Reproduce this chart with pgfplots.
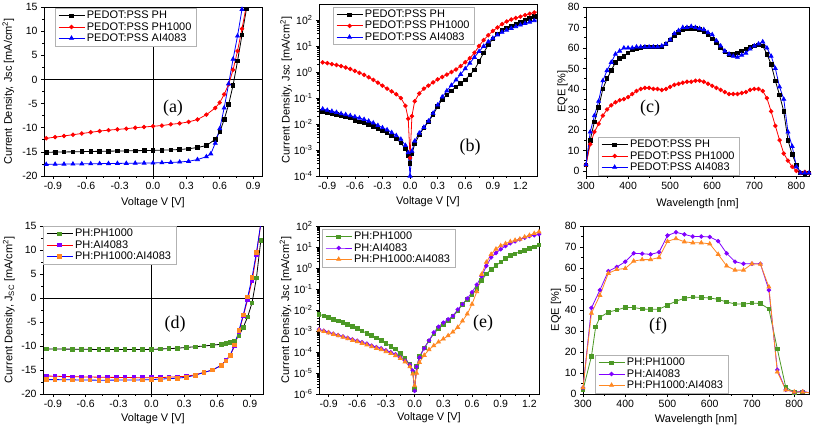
\documentclass[border=0pt]{standalone}
\usepackage{fontspec}
\setmainfont{Liberation Sans}
\newfontfamily\serif{Liberation Serif}
\usepackage{pgfplots}
\pgfplotsset{compat=1.18}

\definecolor{pgreen}{RGB}{76,153,38}
\definecolor{ppurple}{RGB}{128,0,255}
\definecolor{porange}{RGB}{255,136,34}
\newcommand\fs[1]{\fontsize{#1}{#1}\selectfont}

% common look of all six panels
\pgfplotsset{
  panel/.style={
    scale only axis, anchor=south west,
    axis line style={line width=0.8pt},
    tick pos=left, tick align=outside,
    major tick length=3pt, minor tick length=1.8pt,
    tick style={black, line width=0.6pt},
    tick label style={font=\fs{10.5}},
    /pgf/number format/assume math mode=true,
    label style={font=\fs{11}},
    legend cell align=left,
    legend style={font=\fs{11}, draw=gray!60, line width=0.4pt, fill=white,
      inner xsep=3pt, inner ysep=1pt, row sep=-2pt},
    every axis plot/.append style={line width=0.8pt, mark size=1.8pt, mark options={solid}},
  },
  decx/.style={xticklabel style={/pgf/number format/.cd, fixed, fixed zerofill, precision=1}},
  legend image code/.code={\draw[mark repeat=2,mark phase=2,#1] plot coordinates {(0pt,0pt) (13pt,0pt) (26pt,0pt)};},
}

\begin{document}
\begin{tikzpicture}
\path[use as bounding box] (0,0) rectangle (813pt,432pt);

%%%%%%%%%%%%%%%%%%%%%%%% (a) J-V linear %%%%%%%%%%%%%%%%%%%%%%%%
\begin{axis}[panel, decx, at={(44pt,256pt)}, width=218pt, height=169pt,
  xmin=-0.98, xmax=0.98, ymin=-20, ymax=15,
  xtick={-0.9,-0.6,-0.3,0,0.3,0.6,0.9}, ytick={-20,-15,-10,-5,0,5,10,15},
  minor x tick num=1, minor y tick num=1,
  xlabel={Voltage V [V]}, ylabel={Current Density, Jsc [mA/cm\textsuperscript{2}]},
  xlabel style={at={(axis description cs:0.5,-0.156)}, anchor=center},
  ylabel style={at={(axis description cs:-0.164,0.5)}, anchor=center},
  legend style={at={(0.05,0.994)}, anchor=north west}]
\draw[black, line width=0.8pt] (axis cs:-0.98,0) -- (axis cs:0.98,0);
\draw[black, line width=0.8pt] (axis cs:0,-20) -- (axis cs:0,15);
\addplot[black, mark=square*] coordinates {(-0.96,-15.08) (-0.88,-15.05) (-0.8,-15.02) (-0.72,-14.99) (-0.64,-14.96) (-0.56,-14.92) (-0.48,-14.89) (-0.4,-14.86) (-0.32,-14.83) (-0.24,-14.8) (-0.16,-14.76) (-0.08,-14.73) (0,-14.7) (0.08,-14.65) (0.16,-14.59) (0.24,-14.51) (0.32,-14.36) (0.4,-14.1) (0.48,-13.7) (0.56,-12.4) (0.6,-10.9) (0.64,-8.3) (0.68,-5.2) (0.72,-1.2) (0.76,3.8) (0.8,9.2) (0.84,14.6) (0.88,20)};
\addlegendentry{PEDOT:PSS PH}
\addplot[red, mark=*] coordinates {(-0.96,-12.2) (-0.88,-11.95) (-0.8,-11.7) (-0.72,-11.45) (-0.64,-11.2) (-0.56,-10.95) (-0.48,-10.7) (-0.4,-10.5) (-0.32,-10.35) (-0.24,-10.2) (-0.16,-10.0) (-0.08,-9.85) (0,-9.7) (0.08,-9.55) (0.16,-9.3) (0.24,-9.1) (0.32,-8.8) (0.4,-8.3) (0.48,-7.3) (0.56,-5.9) (0.6,-4.8) (0.64,-3.1) (0.68,-1.0) (0.72,2.0) (0.76,5.9) (0.8,10.5) (0.84,15.3) (0.88,20)};
\addlegendentry{PEDOT:PSS PH1000}
\addplot[blue, mark=triangle*, mark size=2.2pt] coordinates {(-0.96,-17.6) (-0.88,-17.56) (-0.8,-17.54) (-0.72,-17.51) (-0.64,-17.49) (-0.56,-17.46) (-0.48,-17.44) (-0.4,-17.42) (-0.32,-17.39) (-0.24,-17.37) (-0.16,-17.34) (-0.08,-17.32) (0,-17.3) (0.08,-17.25) (0.16,-17.2) (0.24,-17.1) (0.32,-16.95) (0.4,-16.6) (0.48,-16.0) (0.52,-15.4) (0.56,-13.2) (0.6,-10.2) (0.64,-5.9) (0.68,-0.9) (0.72,4.2) (0.76,9.0) (0.8,14.5) (0.84,19)};
\addlegendentry{PEDOT:PSS AI4083}
\end{axis}

%%%%%%%%%%%%%%%%%%%%%%%% (b) J-V log %%%%%%%%%%%%%%%%%%%%%%%%
\begin{axis}[panel, decx, ymode=log, at={(319pt,256pt)}, width=218pt, height=172pt,
  xmin=-0.99, xmax=1.38, ymin=1e-4, ymax=415,
  xtick={-0.9,-0.6,-0.3,0,0.3,0.6,0.9,1.2}, minor x tick num=1,
  ytick={1e-4,1e-3,1e-2,1e-1,1,10,100},
  yticklabels={10\textsuperscript{-4},10\textsuperscript{-3},10\textsuperscript{-2},10\textsuperscript{-1},10\textsuperscript{0},10\textsuperscript{1},10\textsuperscript{2}},
  xlabel={Voltage V [V]}, ylabel={Current Density, Jsc [mA/cm\textsuperscript{2}]},
  xlabel style={at={(axis description cs:0.5,-0.149)}, anchor=center},
  ylabel style={at={(axis description cs:-0.151,0.5)}, anchor=center},
  legend style={at={(0.064,0.983)}, anchor=north west}]
\addplot[black, mark=square*] coordinates {(-0.95,0.031) (-0.9,0.028) (-0.85,0.025) (-0.8,0.023) (-0.75,0.021) (-0.7,0.019) (-0.65,0.017) (-0.6,0.014) (-0.55,0.012) (-0.5,0.011) (-0.45,0.0095) (-0.4,0.008) (-0.35,0.0066) (-0.3,0.0055) (-0.25,0.0045) (-0.2,0.0035) (-0.15,0.0027) (-0.1,0.0019) (-0.05,0.0011) (-0.02,6e-4) (0,3e-4) (0.02,7e-4) (0.05,0.0017) (0.1,0.0038) (0.15,0.0072) (0.2,0.012) (0.25,0.023) (0.3,0.047) (0.35,0.09) (0.4,0.13) (0.45,0.19) (0.5,0.27) (0.55,0.36) (0.6,0.5) (0.65,0.78) (0.7,1.2) (0.75,2.6) (0.8,5.5) (0.85,11) (0.9,19) (0.95,29) (1.0,40) (1.05,50) (1.1,60) (1.15,70) (1.2,80) (1.25,95) (1.3,115) (1.35,140) (1.4,160)};
\addlegendentry{PEDOT:PSS PH}
\addplot[red, mark=*] coordinates {(-0.95,2.35) (-0.9,2.2) (-0.85,2.0) (-0.8,1.86) (-0.75,1.7) (-0.7,1.5) (-0.65,1.3) (-0.6,1.1) (-0.55,0.93) (-0.5,0.78) (-0.45,0.63) (-0.4,0.5) (-0.35,0.39) (-0.3,0.3) (-0.25,0.23) (-0.2,0.18) (-0.15,0.14) (-0.1,0.1) (-0.05,0.05) (-0.02,0.016) (0,5e-4) (0.02,0.02) (0.05,0.075) (0.1,0.15) (0.15,0.23) (0.2,0.3) (0.25,0.4) (0.3,0.52) (0.35,0.65) (0.4,0.8) (0.45,1.0) (0.5,1.25) (0.55,1.7) (0.6,2.4) (0.65,3.4) (0.7,5.5) (0.75,10) (0.8,17) (0.85,26) (0.9,38) (0.95,52) (1.0,70) (1.05,88) (1.1,105) (1.15,120) (1.2,135) (1.25,155) (1.3,175) (1.35,195) (1.4,215)};
\addlegendentry{PEDOT:PSS PH1000}
\addplot[blue, mark=triangle*, mark size=2.2pt] coordinates {(-0.95,0.038) (-0.9,0.034) (-0.85,0.031) (-0.8,0.028) (-0.75,0.025) (-0.7,0.023) (-0.65,0.021) (-0.6,0.019) (-0.55,0.017) (-0.5,0.015) (-0.45,0.013) (-0.4,0.011) (-0.35,0.0088) (-0.3,0.0072) (-0.25,0.006) (-0.2,0.0047) (-0.15,0.0036) (-0.1,0.0026) (-0.05,0.0015) (-0.02,8e-4) (0,1e-4) (0.02,9e-4) (0.05,0.0022) (0.1,0.0045) (0.15,0.0075) (0.2,0.013) (0.25,0.026) (0.3,0.054) (0.35,0.11) (0.4,0.19) (0.45,0.31) (0.5,0.5) (0.55,0.82) (0.6,1.35) (0.65,2.2) (0.7,3.7) (0.75,6.2) (0.8,9.8) (0.85,14.6) (0.9,20) (0.95,27) (1.0,34) (1.05,41) (1.1,48) (1.15,56) (1.2,65) (1.25,74) (1.3,84) (1.35,95) (1.4,105)};
\addlegendentry{PEDOT:PSS AI4083}
\end{axis}

%%%%%%%%%%%%%%%%%%%%%%%% (c) EQE %%%%%%%%%%%%%%%%%%%%%%%%
\begin{axis}[panel, at={(586pt,256pt)}, width=223pt, height=169pt,
  xmin=300, xmax=830, ymin=-2.5, ymax=80,
  xtick={300,400,500,600,700,800}, ytick={0,10,20,30,40,50,60,70,80},
  minor x tick num=1, minor y tick num=1,
  xlabel={Wavelength [nm]}, ylabel={EQE [\%]},
  xlabel style={at={(axis description cs:0.5,-0.166)}, anchor=center},
  ylabel style={at={(axis description cs:-0.105,0.5)}, anchor=center},
  legend style={at={(0.054,0.006)}, anchor=south west}]
\addplot[black, mark=square*] coordinates {(300,3) (310,15) (320,24) (330,31) (340,40) (350,45) (360,49) (370,53) (380,55) (390,56) (400,57.5) (410,59) (420,59.5) (430,60) (440,60.5) (450,60.5) (460,60.5) (470,60.5) (480,60.5) (490,62) (500,64) (510,66) (520,67.5) (530,69) (540,69.5) (550,69.5) (560,69.5) (570,69) (580,68) (590,66.5) (600,64.5) (610,62.5) (620,60) (630,58) (640,57) (650,57) (660,57.5) (670,58.5) (680,59.5) (690,60.5) (700,61) (710,61.5) (720,61) (730,57) (740,52) (750,44) (760,37) (770,29) (780,15) (790,8) (800,3) (810,-1) (820,-1.5) (830,-1)};
\addlegendentry{PEDOT:PSS PH}
\addplot[red, mark=*] coordinates {(300,3) (310,13) (320,19) (330,23) (340,27) (350,30) (360,32) (370,33.5) (380,34.5) (390,35) (400,36) (410,37.5) (420,39) (430,40) (440,40.5) (450,40.5) (460,40) (470,40) (480,39.5) (490,40) (500,41) (510,42) (520,42.5) (530,43) (540,43.5) (550,43.5) (560,44) (570,44) (580,43.5) (590,42.5) (600,41.5) (610,40.5) (620,39.5) (630,38.5) (640,37.5) (650,37.5) (660,37.5) (670,38) (680,38.5) (690,39.5) (700,40) (710,40) (720,39) (730,35.5) (740,29) (750,22) (760,15) (770,8.5) (780,5) (790,2) (800,0) (810,-1) (820,-0.5) (830,-1)};
\addlegendentry{PEDOT:PSS PH1000}
\addplot[blue, mark=triangle*, mark size=2.2pt] coordinates {(300,3) (310,19) (320,27) (330,34) (340,44) (350,49) (360,53) (370,57) (380,58.5) (390,60) (400,60) (410,60) (420,60.5) (430,60.5) (440,60.5) (450,60.5) (460,60.5) (470,60.5) (480,61) (490,62) (500,64) (510,67) (520,68.5) (530,70) (540,70) (550,70.5) (560,70) (570,69.5) (580,69) (590,67.5) (600,66.5) (610,63.5) (620,61) (630,58.5) (640,57) (650,56) (660,55.5) (670,56.5) (680,57.5) (690,59.5) (700,61) (710,62) (720,63) (730,60) (740,56) (750,50) (760,41) (770,35) (780,19) (790,12) (800,2) (810,-1) (820,-1) (830,-1)};
\addlegendentry{PEDOT:PSS AI4083}
\end{axis}

%%%%%%%%%%%%%%%%%%%%%%%% (d) J-V linear %%%%%%%%%%%%%%%%%%%%%%%%
\begin{axis}[panel, decx, at={(43pt,38pt)}, width=220pt, height=168pt,
  xmin=-0.99, xmax=1.02, ymin=-20, ymax=15,
  xtick={-0.9,-0.6,-0.3,0,0.3,0.6,0.9}, ytick={-20,-15,-10,-5,0,5,10,15},
  minor x tick num=1, minor y tick num=1,
  xlabel={Voltage V [V]}, ylabel={Current Density, J\textsubscript{SC} [mA/cm\textsuperscript{2}]},
  xlabel style={at={(axis description cs:0.5,-0.145)}, anchor=center},
  ylabel style={at={(axis description cs:-0.155,0.5)}, anchor=center},
  legend style={at={(0,1)}, anchor=north west}]
\draw[black, line width=0.8pt] (axis cs:-0.99,0) -- (axis cs:1.02,0);
\draw[black, line width=0.8pt] (axis cs:0,-20) -- (axis cs:0,15);
\addplot[black, mark=square*, mark options={fill=pgreen, draw=pgreen}] coordinates {(-0.96,-10.6) (-0.88,-10.62) (-0.8,-10.64) (-0.72,-10.66) (-0.64,-10.68) (-0.56,-10.7) (-0.48,-10.72) (-0.4,-10.73) (-0.32,-10.74) (-0.24,-10.74) (-0.16,-10.74) (-0.08,-10.72) (0,-10.7) (0.08,-10.63) (0.16,-10.55) (0.24,-10.45) (0.32,-10.3) (0.4,-10.15) (0.48,-10.0) (0.56,-9.82) (0.64,-9.63) (0.68,-9.5) (0.72,-9.3) (0.76,-8.9) (0.8,-7.9) (0.84,-6.1) (0.88,-3.9) (0.92,-1.0) (0.96,4.2) (1.0,12)};
\addlegendentry{PH:PH1000}
\addplot[red, mark=square*, mark options={fill=ppurple, draw=ppurple}] coordinates {(-0.96,-16.25) (-0.88,-16.3) (-0.8,-16.35) (-0.72,-16.4) (-0.64,-16.43) (-0.56,-16.46) (-0.48,-16.5) (-0.4,-16.52) (-0.32,-16.55) (-0.24,-16.57) (-0.16,-16.59) (-0.08,-16.6) (0,-16.6) (0.08,-16.58) (0.16,-16.5) (0.24,-16.4) (0.32,-16.3) (0.4,-16.0) (0.48,-15.5) (0.56,-15.0) (0.64,-14.0) (0.68,-13.0) (0.72,-12.0) (0.76,-10.0) (0.8,-7.1) (0.84,-3.7) (0.88,-0.3) (0.92,3.6) (0.96,9.0) (1.0,15.5)};
\addlegendentry{PH:AI4083}
\addplot[blue, mark=square*, mark options={fill=porange, draw=porange}] coordinates {(-0.96,-17.0) (-0.88,-17.0) (-0.8,-17.02) (-0.72,-17.05) (-0.64,-17.08) (-0.56,-17.1) (-0.48,-17.12) (-0.4,-17.12) (-0.32,-17.1) (-0.24,-17.1) (-0.16,-17.08) (-0.08,-17.05) (0,-17.0) (0.08,-16.9) (0.16,-16.8) (0.24,-16.7) (0.32,-16.5) (0.4,-16.1) (0.48,-15.5) (0.56,-15.0) (0.64,-14.0) (0.68,-13.1) (0.72,-11.9) (0.76,-9.8) (0.8,-6.8) (0.84,-3.5) (0.88,0.2) (0.92,4.3) (0.96,9.5) (1.0,15.5)};
\addlegendentry{PH:PH1000:AI4083}
\end{axis}

%%%%%%%%%%%%%%%%%%%%%%%% (e) J-V log %%%%%%%%%%%%%%%%%%%%%%%%
\begin{axis}[panel, decx, ymode=log, at={(319pt,38pt)}, width=220pt, height=168pt,
  xmin=-1.0, xmax=1.3, ymin=1e-6, ymax=100,
  xtick={-0.9,-0.6,-0.3,0,0.3,0.6,0.9,1.2}, minor x tick num=1,
  ytick={1e-6,1e-5,1e-4,1e-3,1e-2,1e-1,1,10,100},
  yticklabels={10\textsuperscript{-6},10\textsuperscript{-5},10\textsuperscript{-4},10\textsuperscript{-3},10\textsuperscript{-2},10\textsuperscript{-1},10\textsuperscript{0},10\textsuperscript{1},10\textsuperscript{2}},
  xlabel={Voltage V [V]}, ylabel={Current Density, Jsc [mA/cm\textsuperscript{2}]},
  xlabel style={at={(axis description cs:0.5,-0.141)}, anchor=center},
  ylabel style={at={(axis description cs:-0.152,0.5)}, anchor=center},
  legend style={at={(0.014,0.982)}, anchor=north west}]
\addplot[pgreen, mark=square*] coordinates {(-1.0,6.3e-3) (-0.95,5.2e-3) (-0.9,4.4e-3) (-0.85,3.6e-3) (-0.8,3.0e-3) (-0.75,2.5e-3) (-0.7,2.1e-3) (-0.65,1.7e-3) (-0.6,1.35e-3) (-0.55,1.0e-3) (-0.5,7.9e-4) (-0.45,6.0e-4) (-0.4,4.7e-4) (-0.35,3.5e-4) (-0.3,2.6e-4) (-0.25,1.9e-4) (-0.2,1.4e-4) (-0.15,8.5e-5) (-0.1,5.0e-5) (-0.05,2.5e-5) (-0.02,1e-5) (0,1.7e-6) (0.02,2e-5) (0.05,6e-5) (0.1,1.6e-4) (0.15,3.4e-4) (0.2,7.4e-4) (0.25,1.3e-3) (0.3,2.0e-3) (0.35,3.2e-3) (0.4,4.9e-3) (0.45,8.9e-3) (0.5,0.019) (0.55,0.032) (0.6,0.052) (0.65,0.11) (0.7,0.25) (0.75,0.52) (0.8,0.87) (0.85,1.3) (0.9,1.95) (0.95,2.8) (1.0,3.9) (1.05,4.8) (1.1,5.9) (1.15,7.1) (1.2,8.5) (1.25,10.2) (1.3,12.6)};
\addlegendentry{PH:PH1000}
\addplot[ppurple, mark=*] coordinates {(-1.0,1.2e-3) (-0.95,1.02e-3) (-0.9,8.7e-4) (-0.85,7.4e-4) (-0.8,6.4e-4) (-0.75,5.5e-4) (-0.7,4.7e-4) (-0.65,4.0e-4) (-0.6,3.4e-4) (-0.55,2.9e-4) (-0.5,2.5e-4) (-0.45,2.0e-4) (-0.4,1.7e-4) (-0.35,1.5e-4) (-0.3,1.2e-4) (-0.25,9.8e-5) (-0.2,7.9e-5) (-0.15,5.6e-5) (-0.1,3.9e-5) (-0.05,2.5e-5) (-0.02,1.3e-5) (0,1.4e-6) (0.02,2e-5) (0.05,5.5e-5) (0.1,1.5e-4) (0.15,3.5e-4) (0.2,8.5e-4) (0.25,1.6e-3) (0.3,2.5e-3) (0.35,3.6e-3) (0.4,5.2e-3) (0.45,0.0105) (0.5,0.019) (0.55,0.035) (0.6,0.07) (0.65,0.16) (0.7,0.4) (0.75,1.26) (0.8,3.2) (0.85,5.2) (0.9,7.9) (0.95,11.2) (1.0,15) (1.05,18.6) (1.1,23) (1.15,27.5) (1.2,33) (1.25,36.3) (1.3,40)};
\addlegendentry{PH:AI4083}
\addplot[porange, mark=triangle*, mark size=2.2pt] coordinates {(-1.0,1.1e-3) (-0.95,9.5e-4) (-0.9,8.2e-4) (-0.85,7e-4) (-0.8,6e-4) (-0.75,5.1e-4) (-0.7,4.3e-4) (-0.65,3.6e-4) (-0.6,3.1e-4) (-0.55,2.6e-4) (-0.5,2.2e-4) (-0.45,1.8e-4) (-0.4,1.5e-4) (-0.35,1.3e-4) (-0.3,1.05e-4) (-0.25,8.5e-5) (-0.2,6.8e-5) (-0.15,5e-5) (-0.1,3.4e-5) (-0.05,2e-5) (-0.02,9e-6) (0,2.5e-6) (0.02,1e-5) (0.05,3.2e-5) (0.1,7e-5) (0.15,1.3e-4) (0.2,2e-4) (0.25,3e-4) (0.3,4.2e-4) (0.35,6e-4) (0.4,9e-4) (0.45,1.5e-3) (0.5,3.0e-3) (0.55,6.5e-3) (0.6,0.019) (0.65,0.075) (0.7,0.5) (0.75,1.9) (0.8,4.5) (0.85,8) (0.9,11.5) (0.95,14.5) (1.0,18) (1.05,21) (1.1,24) (1.15,30) (1.2,36) (1.25,44) (1.3,53)};
\addlegendentry{PH:PH1000:AI4083}
\end{axis}

%%%%%%%%%%%%%%%%%%%%%%%% (f) EQE %%%%%%%%%%%%%%%%%%%%%%%%
\begin{axis}[panel, at={(583pt,38pt)}, width=226pt, height=168pt,
  xmin=300, xmax=835, ymin=0, ymax=80,
  xtick={300,400,500,600,700,800}, ytick={0,10,20,30,40,50,60,70,80},
  minor x tick num=1, minor y tick num=1,
  xlabel={Wavelength [nm]}, ylabel={EQE [\%]},
  xlabel style={at={(axis description cs:0.5,-0.151)}, anchor=center},
  ylabel style={at={(axis description cs:-0.119,0.5)}, anchor=center},
  legend style={at={(0.053,0.006)}, anchor=south west}]
\addplot[pgreen, mark=square*] coordinates {(300,2) (320,18) (330,32) (340,36.5) (360,39) (380,40) (400,41.2) (420,41.2) (440,40.5) (460,40.3) (480,40.4) (500,42.3) (520,44.2) (540,45.6) (560,46.2) (580,46) (600,45.7) (620,45.1) (640,43.8) (660,42.9) (680,42.8) (700,43.3) (720,43.1) (740,40.5) (760,21.4) (780,3.2) (800,0.8) (820,1.0) (840,0.5)};
\addlegendentry{PH:PH1000}
\addplot[ppurple, mark=*] coordinates {(300,3) (320,41) (340,49.5) (360,58.5) (380,60.5) (400,63) (420,67) (440,66.8) (460,66.5) (480,67.5) (500,75.5) (520,77) (540,76) (560,75) (580,75) (600,74.8) (620,72.8) (640,67) (660,63) (680,62) (700,62) (720,62) (740,49.5) (760,11.5) (780,2) (800,1) (820,1.2) (840,0.5)};
\addlegendentry{PH:AI4083}
\addplot[porange, mark=triangle*, mark size=2.2pt] coordinates {(300,3) (320,38.5) (340,47) (360,57.5) (380,59.3) (400,59.8) (420,63.3) (440,64) (460,64) (480,65) (500,72.7) (520,74) (540,72.5) (560,72) (580,72) (600,71.5) (620,66.5) (640,61) (660,59) (680,59) (700,62) (720,61.8) (740,51) (760,10.5) (780,2) (800,1) (820,1) (840,0.5)};
\addlegendentry{PH:PH1000:AI4083}
\end{axis}

%%%%%%%%%%%%%%%%%%%%%%%% panel letters %%%%%%%%%%%%%%%%%%%%%%%%
\node[font=\serif\fs{18}] at (173pt,324pt) {(a)};
\node[font=\serif\fs{18}] at (470pt,285pt) {(b)};
\node[font=\serif\fs{18}] at (650pt,324pt) {(c)};
\node[font=\serif\fs{18}] at (175pt,108pt) {(d)};
\node[font=\serif\fs{18}] at (483pt,109pt) {(e)};
\node[font=\serif\fs{18}] at (658pt,106pt) {(f)};
\end{tikzpicture}
\end{document}
